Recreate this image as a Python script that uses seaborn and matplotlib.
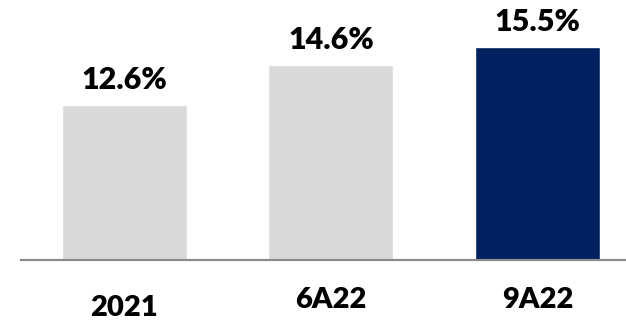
import matplotlib
matplotlib.use("Agg")
import matplotlib.pyplot as plt
import matplotlib.transforms as mtransforms
from matplotlib import font_manager
import seaborn as sns
import pandas as pd

# Data
periods = ["2021", "6A22", "9A22"]
ratios = [12.6, 14.6, 15.5]
bar_colors = ["#d9d9d9", "#d9d9d9", "#002060"]

df = pd.DataFrame({"period": periods, "ratio": ratios})

sns.set_theme(style="white")
plt.rcParams["font.family"] = ["Lato", "DejaVu Sans"]

lato_weights = sorted({f.weight for f in font_manager.fontManager.ttflist if f.name == "Lato"}, key=str)
label_weight = "heavy" if any(str(w) in ("800", "heavy") for w in lato_weights) else "bold"

fig = plt.figure(figsize=(6.26, 3.2), dpi=100)
ax = fig.add_axes([21 / 626, (320 - 259.5) / 320, 1 - 21 / 626, 259.5 / 320])

sns.barplot(data=df, x="period", y="ratio", hue="period", palette=bar_colors,
            width=0.605, legend=False, saturation=1, ax=ax)

ax.set_xlim(-0.501, 2.429)
ax.set_ylim(4.9, 4.9 + 259.5 / 20)

# value labels above each bar
for i, v in enumerate(ratios):
    ax.annotate(f"{v:.1f}%", xy=(i, v), xytext=(0, 8), textcoords="offset points",
                ha="center", va="bottom", fontsize=22, fontweight=label_weight, color="black")

for s in ["top", "right", "left"]:
    ax.spines[s].set_visible(False)
ax.spines["bottom"].set_color("#8c8c8c")
ax.spines["bottom"].set_linewidth(1.6)
ax.set_yticks([])
ax.set_xlabel("")
ax.set_ylabel("")
ax.tick_params(axis="x", length=0, pad=20)
ax.set_xticks(range(len(periods)))
ax.set_xticklabels(periods, fontsize=21, fontweight=label_weight, color="black")
# first category label sits slightly lower
first = ax.get_xticklabels()[0]
first.set_transform(first.get_transform() + mtransforms.ScaledTranslation(0, -8 / 100, fig.dpi_scale_trans))

fig.savefig("out.png", dpi=100, facecolor="white")
